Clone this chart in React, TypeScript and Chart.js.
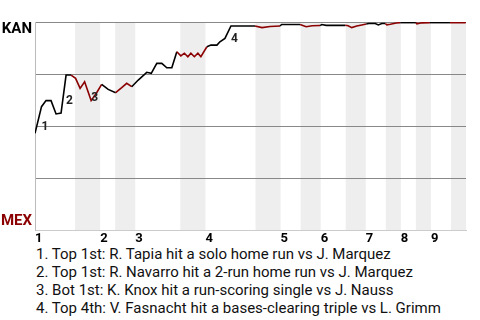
import React, { useEffect, useRef } from "react";
import { Chart, registerables } from "chart.js";

Chart.register(...registerables);

// Plate-appearance position (x) and KAN win probability (%) after each event
const eventX = [
  0, 1.3, 2.2, 3.2, 4.2, 5.2, 6.2, 7.2, 8.1, 9.0, 9.9, 11.2, 12.3, 13.3, 14.6, 16.1,
  17.3, 18.3, 19.3, 20.6, 22.3, 23.2, 24.3, 25.3, 26.3, 27.3, 28.3, 29.1, 29.8, 30.5,
  31.1, 31.8, 32.5, 33.1, 34.3, 35.1, 36.3, 36.9, 37.9, 39.1, 43.9, 45.3, 46.9, 48.9,
  49.2, 52.9, 54.1, 55.3, 56.9, 57.2, 58.1, 61.9, 62.5, 63.2, 64.2, 65.2, 66.1, 66.6,
  67.9, 68.5, 69.2, 69.9, 70.2, 70.9, 72.1, 72.9, 76.0, 76.2, 77.2, 78.8, 82.8, 85.8, 86.0,
];
const kanWinPct = [
  46.5, 59.3, 62.2, 62.2, 55.8, 56.2, 74.5, 74.5, 72.9, 68.1, 71.3, 62.2, 66.0, 70.0, 67.6, 66.0,
  68.4, 70.5, 68.9, 72.1, 75.8, 75.3, 80.1, 80.1, 78.0, 78.0, 85.7, 83.7, 85.0, 83.3,
  85.0, 83.3, 85.0, 83.3, 88.1, 88.9, 88.9, 90.5, 92.1, 98.1, 98.1, 97.3, 97.8, 98.1,
  98.8, 98.8, 97.7, 98.2, 98.3, 98.8, 98.4, 98.4, 98.2, 97.3, 98.1, 98.6, 99.0, 99.3,
  99.3, 98.6, 99.3, 99.3, 98.6, 98.9, 99.5, 99.7, 99.7, 99.1, 99.6, 99.7, 99.7, 99.7, 100,
];
// Team at bat for each event (K = Kansas, M = Mexico)
const battingTeam = [
  "K", "K", "K", "K", "K", "K", "K", "K", "M", "M", "M", "M", "M", "M", "K", "K",
  "M", "M", "M", "K", "K", "K", "K", "K", "K", "K", "K", "M", "M", "M",
  "M", "M", "M", "M", "M", "K", "K", "K", "K", "K", "K", "M", "M", "M",
  "K", "K", "M", "M", "M", "K", "K", "K", "M", "M", "M", "M", "M", "K",
  "K", "K", "K", "K", "M", "M", "M", "M", "K", "M", "M", "M", "K", "M", "M",
];

// Half-inning boundaries (plate appearance positions)
const bottomHalfStarts = [8, 16, 29, 44, 53, 62, 70, 76, 83];
const bottomHalfEnds = [13, 20, 34, 49, 57, 66, 73, 79, 86];
const inningStarts = [0, 13, 20, 34, 49, 57, 66, 73, 79];
const inningLabels = ["1", "2", "3", "4", "5", "6", "7", "8", "9"];

const yGridValues = [0, 25, 50, 75, 100];
const teamTop = "KAN";
const teamBottom = "MEX";

const keyEventIndex = [1, 6, 11, 39];
const keyEventMarks = ["1", "2", "3", "4"];
const keyEventNotes = [
  "1. Top 1st: R. Tapia hit a solo home run vs J. Marquez",
  "2. Top 1st: R. Navarro hit a 2-run home run vs J. Marquez",
  "3. Bot 1st: K. Knox hit a run-scoring single vs J. Nauss",
  "4. Top 4th: V. Fasnacht hit a bases-clearing triple vs L. Grimm",
];

const RED = "#8b0000";
const BLACK = "#000000";
const FONT = "Roboto, 'Noto Sans', sans-serif";

export default function App() {
  const ref = useRef<HTMLCanvasElement | null>(null);

  useEffect(() => {
    document.body.style.margin = "0";
    const canvas = ref.current;
    if (!canvas) return;

    const decorPlugin = {
      id: "decor",
      beforeDraw(chart: any) {
        const { ctx, chartArea, scales } = chart;
        const xs = scales.x;
        ctx.save();
        ctx.fillStyle = "#eeeeee";
        for (let i = 0; i < bottomHalfStarts.length; i++) {
          const a = xs.getPixelForValue(bottomHalfStarts[i]);
          const b = xs.getPixelForValue(bottomHalfEnds[i]);
          ctx.fillRect(a, chartArea.top, b - a, chartArea.bottom - chartArea.top);
        }
        ctx.restore();
      },
      afterDraw(chart: any) {
        const { ctx, chartArea, scales } = chart;
        const xs = scales.x;
        const ys = scales.y;
        ctx.save();
        ctx.font = `bold 15px ${FONT}`;
        ctx.textAlign = "right";
        ctx.textBaseline = "top";
        ctx.fillStyle = BLACK;
        ctx.fillText(teamTop, chartArea.left - 3, chartArea.top + 0);
        ctx.textBaseline = "bottom";
        ctx.fillStyle = RED;
        ctx.fillText(teamBottom, chartArea.left - 3, chartArea.bottom - 1);

        ctx.font = `bold 12px ${FONT}`;
        ctx.textAlign = "left";
        ctx.textBaseline = "middle";
        ctx.fillStyle = "#222";
        keyEventIndex.forEach((idx, k) => {
          const px = xs.getPixelForValue(eventX[idx]);
          const y0 = ys.getPixelForValue(kanWinPct[idx - 1]);
          const y1 = ys.getPixelForValue(kanWinPct[idx]);
          ctx.fillText(keyEventMarks[k], px, (y0 + y1) / 2 + 7);
        });
        ctx.restore();
      },
    };

    const chart = new Chart(canvas, {
      type: "line",
      data: {
        datasets: [
          {
            data: eventX.map((x, i) => ({ x, y: kanWinPct[i] })),
            borderColor: BLACK,
            borderWidth: 1.6,
            pointRadius: 0,
            tension: 0,
            segment: {
              borderColor: (c: any) => (battingTeam[c.p1DataIndex] === "M" ? RED : BLACK),
            },
          },
        ],
      },
      options: {
        animation: false,
        responsive: false,
        devicePixelRatio: 1,
        layout: { padding: { top: 22, right: 14, left: 0, bottom: 0 } },
        plugins: { legend: { display: false }, tooltip: { enabled: false } },
        scales: {
          x: {
            type: "linear",
            min: 0,
            max: 86,
            grid: { display: false, drawTicks: false },
            border: { display: true, color: "#cccccc", width: 1 },
            afterBuildTicks: (s: any) => {
              s.ticks = inningStarts.map((v) => ({ value: v }));
            },
            afterFit: (s: any) => {
              s.height = 245 - 230;
            },
            ticks: {
              autoSkip: false,
              maxRotation: 0,
              align: "start",
              padding: 1,
              color: BLACK,
              font: { family: FONT, size: 13, weight: "bold" },
              callback: (_v: any, i: number) => inningLabels[i],
            },
          },
          y: {
            min: 0,
            max: 100,
            afterBuildTicks: (s: any) => {
              s.ticks = yGridValues.map((v) => ({ value: v }));
            },
            afterFit: (s: any) => {
              s.width = 35;
            },
            grid: {
              drawTicks: false,
              color: (c: any) => (c.tick && c.tick.value === 0 ? "rgba(0,0,0,0)" : "#888888"),
              lineWidth: 1,
            },
            border: { display: true, color: "#bbbbbb", width: 1 },
            ticks: { display: false },
          },
        },
      },
      plugins: [decorPlugin],
    });
    return () => chart.destroy();
  }, []);

  return (
    <div style={{ position: "absolute", left: 0, top: 0, width: 480, height: 320, background: "#fff" }}>
      <canvas ref={ref} width={480} height={245} style={{ display: "block", width: 480, height: 245 }} />
      <div
        style={{
          position: "absolute",
          left: 36,
          top: 245,
          fontFamily: FONT,
          fontSize: 15,
          lineHeight: "18px",
          color: "#111",
          whiteSpace: "nowrap",
        }}
      >
        {keyEventNotes.map((n, i) => (
          <div key={i}>{n}</div>
        ))}
      </div>
    </div>
  );
}
